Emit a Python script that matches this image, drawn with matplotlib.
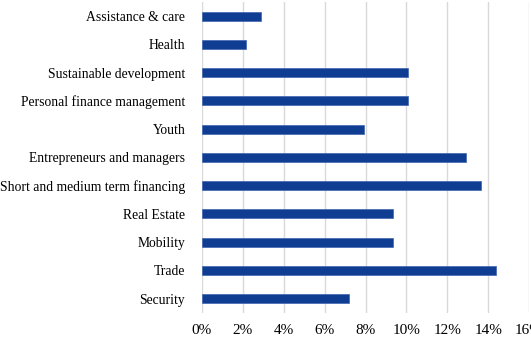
import matplotlib
matplotlib.use("Agg")
import matplotlib.pyplot as plt
from matplotlib.ticker import FuncFormatter

categories = ["Assistance & care", "Health", "Sustainable development",
              "Personal finance management", "Youth", "Entrepreneurs and managers",
              "Short and medium term financing", "Real Estate", "Mobility",
              "Trade", "Security"]
values = [2.89, 2.17, 10.08, 10.08, 7.92, 12.93, 13.65, 9.34, 9.34, 14.38, 7.2]
xticks = [0, 2, 4, 6, 8, 10, 12, 14, 16]

plt.rcParams['font.family'] = ['Liberation Serif', 'DejaVu Serif']

fig = plt.figure(figsize=(5.31, 3.38), dpi=100)
ax = fig.add_axes([202/531, (338-312.9)/338, (529-202)/531, 311/338])

pos = list(range(len(categories)))
ax.barh(pos, values, height=0.32, color='#0f3d91', edgecolor='#3f66b0', linewidth=0.5, zorder=3)
ax.set_yticks(pos)
ax.set_yticklabels(categories, fontsize=9.85)
ax.set_ylim(len(categories) - 0.5, -0.5)
ax.set_xlim(0, 16)
ax.set_xticks(xticks)
ax.xaxis.set_major_formatter(FuncFormatter(lambda v, p: f"{int(v)}%"))
ax.tick_params(axis='x', labelsize=11, length=0, pad=8)
ax.tick_params(axis='y', length=0, pad=12)
ax.grid(axis='x', color='#d9d9d9', linewidth=1, zorder=0)
for s in ax.spines.values():
    s.set_visible(False)

fig.savefig("out.png", dpi=100)
